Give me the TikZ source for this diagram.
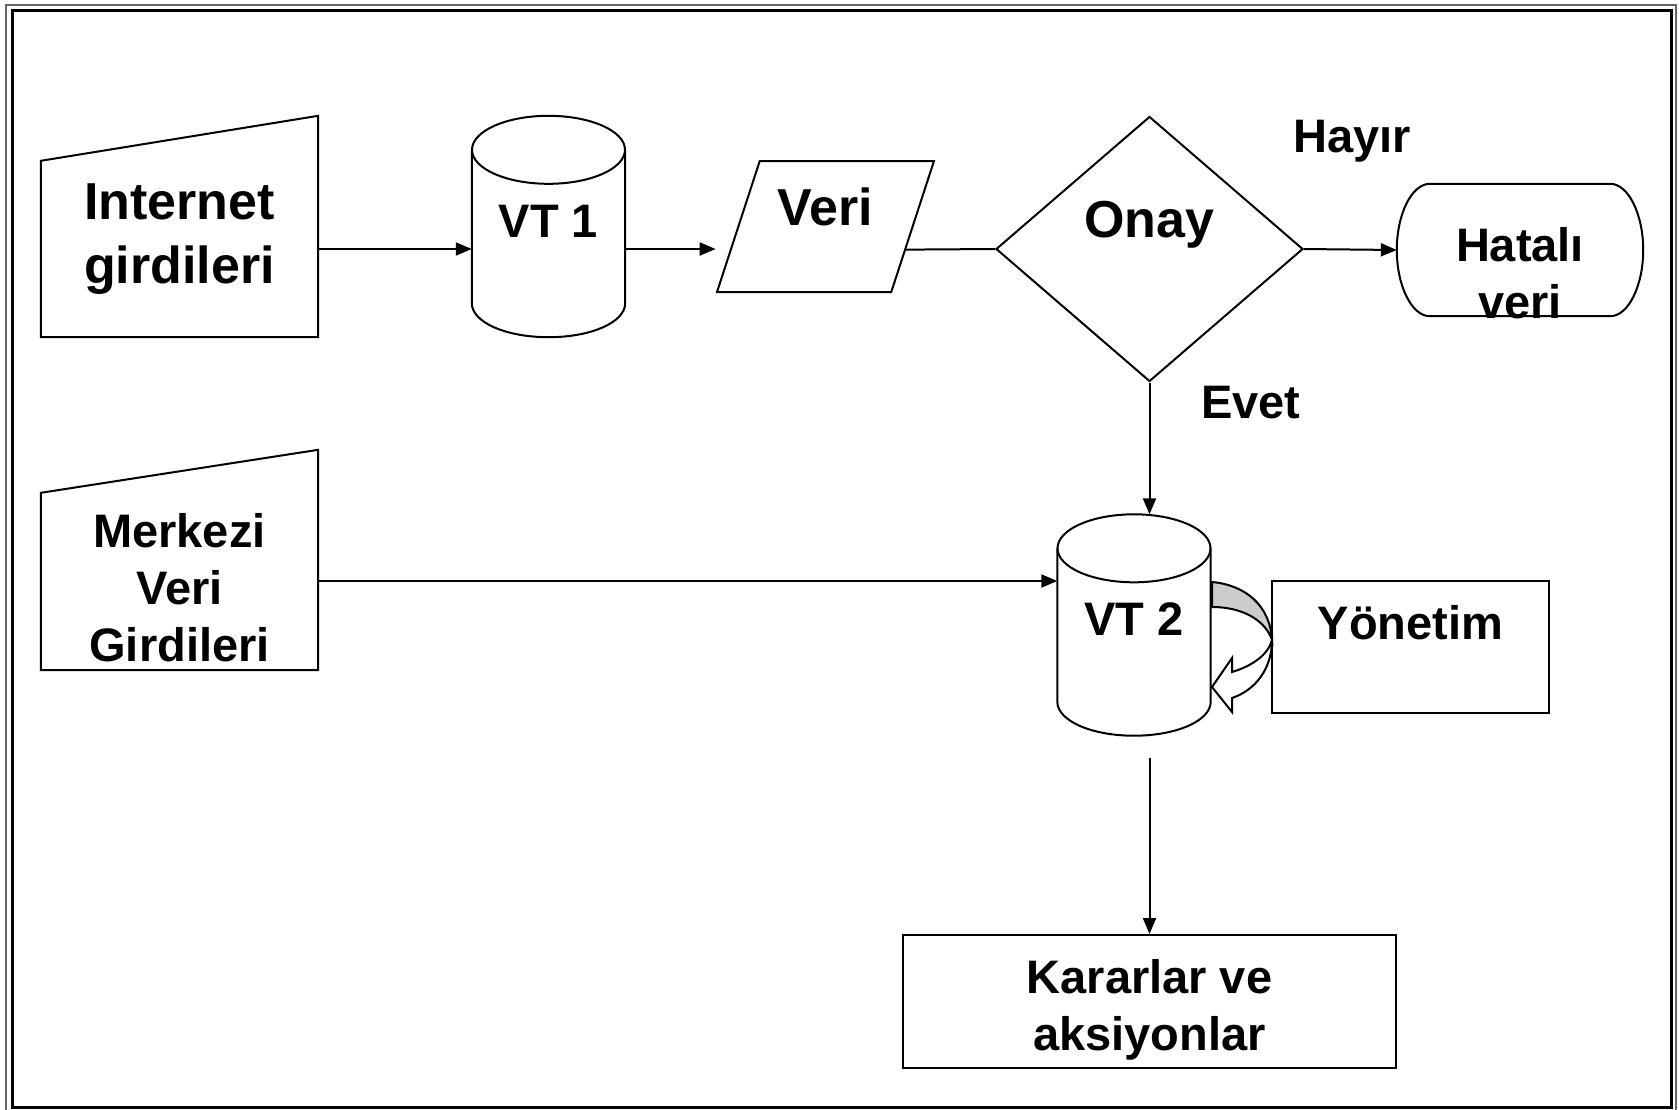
\documentclass[tikz,border=0pt]{standalone}
\usepackage{fontspec}
\setmainfont{Liberation Sans}
\usetikzlibrary{positioning, arrows.meta, shapes.geometric, calc}

\begin{document}
\begin{tikzpicture}[
    x=1pt, y=-1pt,
    line/.style = {draw, line width=2pt},
    txt/.style = {font=\fontsize{47}{57}\selectfont\bfseries, align=center},
    bigtxt/.style = {font=\fontsize{52}{64}\selectfont\bfseries, align=center},
    % giris kutulari (manual input)
    manual/.style = {draw=none, minimum width=277pt, inner sep=0pt},
    % veri tabanlari (silindir, cizgisi asagida)
    storage/.style = {draw=none, minimum width=153pt, minimum height=221pt, inner sep=0pt},
    io/.style = {line, trapezium, trapezium left angle=72, trapezium right angle=108, trapezium stretches=true, minimum width=217pt, minimum height=131pt, inner sep=2pt},
    decision/.style = {line, diamond, minimum width=307pt, minimum height=265pt, inner sep=2pt},
    box/.style = {line, rectangle, inner sep=0pt},
    arr/.style = {line, -{Triangle[length=16pt, width=13pt]}}
]
\useasboundingbox (0,0) rectangle (1679,1109);

% --- Cerceve ---
\draw[line width=2pt, black!60] (6,5) rectangle (1676,1111);
\draw[line width=3pt] (12,10) rectangle (1671,1107);

% --- Ust sira ---
\node[manual, bigtxt, minimum height=195pt] (inet) at (179.5,239.5) {Internet\\girdileri};
\draw[line] (inet.south west) -- ([yshift=-19pt]inet.north west) -- ([yshift=26pt]inet.north east) -- (inet.south east) -- cycle;

\node[storage, label={[txt, yshift=5pt]center:VT 1}] (vt1) at (548.5,226.5) {};
\draw[line] ([yshift=-34pt]vt1.north west) -- ([yshift=34pt]vt1.south west)
    .. controls ([yshift=15pt]vt1.south west) and ([xshift=34pt]vt1.south west) .. (vt1.south)
    .. controls ([xshift=-34pt]vt1.south east) and ([yshift=15pt]vt1.south east) .. ([yshift=34pt]vt1.south east)
    -- ([yshift=-34pt]vt1.north east);
\draw[line] ([yshift=-34pt]vt1.north) ellipse [x radius=76.5pt, y radius=34pt];

\node[io, label={[bigtxt, yshift=20pt]center:Veri}] (veri) at (825.5,226.5) {};
\node[decision, label={[bigtxt, yshift=24pt]center:Onay}] (onay) at (1149.5,249) {};
\node[txt] (hayir) at (1352,141) {Hayır};

\node[draw=none, minimum width=246pt, minimum height=132pt, label={[txt, yshift=-23pt]center:Hatalı\\veri}] (hv) at (1520,250) {};
\draw[line] ([xshift=33pt]hv.north west) -- ([xshift=-33pt]hv.north east)
    .. controls ([xshift=-15pt]hv.north east) and ([yshift=36pt]hv.east) .. (hv.east)
    .. controls ([yshift=-36pt]hv.east) and ([xshift=-15pt]hv.south east) .. ([xshift=-33pt]hv.south east)
    -- ([xshift=33pt]hv.south west)
    .. controls ([xshift=15pt]hv.south west) and ([yshift=-36pt]hv.west) .. (hv.west)
    .. controls ([yshift=36pt]hv.west) and ([xshift=15pt]hv.north west) .. cycle;

\node[txt] (evet) at (1251,403) {Evet};

% --- Orta sira ---
\node[manual, txt, minimum height=165pt] (merk) at (179.5,587.5) {Merkezi\\Veri\\Girdileri};
\draw[line] (merk.south west) -- ([yshift=12pt]merk.north west) -- ([yshift=55pt]merk.north east) -- (merk.south east) -- cycle;

\node[storage, label={[txt, yshift=6pt]center:VT 2}] (vt2) at (1134,625) {};
\draw[line] ([yshift=-34pt]vt2.north west) -- ([yshift=34pt]vt2.south west)
    .. controls ([yshift=15pt]vt2.south west) and ([xshift=34pt]vt2.south west) .. (vt2.south)
    .. controls ([xshift=-34pt]vt2.south east) and ([yshift=15pt]vt2.south east) .. ([yshift=34pt]vt2.south east)
    -- ([yshift=-34pt]vt2.north east);
\draw[line] ([yshift=-34pt]vt2.north) ellipse [x radius=76.5pt, y radius=34pt];

\node[box, minimum width=277pt, minimum height=132pt, label={[txt, yshift=24pt]center:Yönetim}] (yon) at (1410.5,647) {};

% --- Alt sira ---
\node[box, minimum width=493pt, minimum height=133pt, label={[txt, yshift=-8pt]center:Kararlar ve\\aksiyonlar}] (karar) at (1149.5,1001.5) {};

% --- Oklar ---
\draw[arr] (inet.east |- onay.west) -- (vt1.west |- onay.west);
\draw[arr] (vt1.east |- onay.west) -- (veri.bottom left corner |- onay.west);
\draw[line] (veri.-16) -- (onay.west);
\draw[arr] (onay.east) -- (hv.west);
\draw[arr] (onay.south) -- (onay.south |- vt2.north);
\draw[arr] (merk.east |- 0,581) -- (vt2.west |- 0,581);
\draw[arr] ([yshift=-22pt]vt2.south -| karar.north) -- (karar.north);

% Yonetim -> VT 2 kivrik ok
\filldraw[line, fill=black!20] (1212,582) .. controls (1245,585) and (1270,605) .. (1272,640)
    .. controls (1266,622) and (1245,607) .. (1212,607) -- cycle;
\filldraw[line, fill=white] (1272,640) .. controls (1272,668) and (1256,690) .. (1232,698)
    -- (1232,712) -- (1212,687) -- (1232,658) -- (1232,672)
    .. controls (1252,666) and (1268,655) .. (1272,640) -- cycle;

\end{tikzpicture}
\end{document}
